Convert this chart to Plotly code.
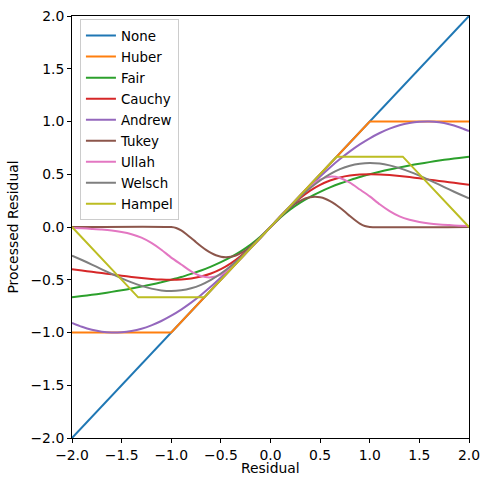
import plotly.graph_objects as go

# Residual grid for the smooth curves
residual = [-2.0, -1.9, -1.8, -1.7, -1.6, -1.5, -1.4, -1.3, -1.2, -1.1, -1.0,
            -0.9, -0.8, -0.7, -0.6, -0.5, -0.4, -0.3, -0.2, -0.1, 0.0,
            0.1, 0.2, 0.3, 0.4, 0.5, 0.6, 0.7, 0.8, 0.9, 1.0,
            1.1, 1.2, 1.3, 1.4, 1.5, 1.6, 1.7, 1.8, 1.9, 2.0]

fair = [-0.667, -0.655, -0.643, -0.630, -0.615, -0.600, -0.583, -0.565, -0.545, -0.524, -0.500,
        -0.474, -0.444, -0.412, -0.375, -0.333, -0.286, -0.231, -0.167, -0.091, 0.0,
        0.091, 0.167, 0.231, 0.286, 0.333, 0.375, 0.412, 0.444, 0.474, 0.500,
        0.524, 0.545, 0.565, 0.583, 0.600, 0.615, 0.630, 0.643, 0.655, 0.667]

cauchy = [-0.400, -0.412, -0.425, -0.437, -0.449, -0.462, -0.473, -0.483, -0.492, -0.498, -0.500,
          -0.497, -0.488, -0.470, -0.441, -0.400, -0.345, -0.275, -0.192, -0.099, 0.0,
          0.099, 0.192, 0.275, 0.345, 0.400, 0.441, 0.470, 0.488, 0.497, 0.500,
          0.498, 0.492, 0.483, 0.473, 0.462, 0.449, 0.437, 0.425, 0.412, 0.400]

andrew = [-0.909, -0.946, -0.974, -0.992, -1.000, -0.997, -0.985, -0.964, -0.932, -0.891, -0.841,
          -0.783, -0.717, -0.644, -0.565, -0.479, -0.389, -0.296, -0.199, -0.100, 0.0,
          0.100, 0.199, 0.296, 0.389, 0.479, 0.565, 0.644, 0.717, 0.783, 0.841,
          0.891, 0.932, 0.964, 0.985, 0.997, 1.000, 0.992, 0.974, 0.946, 0.909]

# Tukey is read on a finer grid inside [-1, 1] and is flat outside it
tukey_x = [-2.0, -1.0, -0.95, -0.9, -0.85, -0.8, -0.75, -0.7, -0.65, -0.6, -0.55, -0.5,
           -0.45, -0.4, -0.35, -0.3, -0.25, -0.2, -0.15, -0.1, -0.05, 0.0,
           0.05, 0.1, 0.15, 0.2, 0.25, 0.3, 0.35, 0.4, 0.45, 0.5,
           0.55, 0.6, 0.65, 0.7, 0.75, 0.8, 0.85, 0.9, 0.95, 1.0, 2.0]
tukey = [0.0, 0.0, -0.009, -0.032, -0.066, -0.104, -0.144, -0.182, -0.217, -0.246, -0.268, -0.281,
         -0.286, -0.282, -0.270, -0.248, -0.220, -0.184, -0.143, -0.098, -0.050, 0.0,
         0.050, 0.098, 0.143, 0.184, 0.220, 0.248, 0.270, 0.282, 0.286, 0.281,
         0.268, 0.246, 0.217, 0.182, 0.144, 0.104, 0.066, 0.032, 0.009, 0.0, 0.0]

ullah = [-0.010, -0.013, -0.018, -0.024, -0.033, -0.047, -0.068, -0.100, -0.150, -0.215, -0.290,
         -0.355, -0.420, -0.465, -0.477, -0.450, -0.385, -0.297, -0.200, -0.100, 0.0,
         0.100, 0.200, 0.297, 0.385, 0.450, 0.477, 0.465, 0.420, 0.355, 0.290,
         0.215, 0.150, 0.100, 0.068, 0.047, 0.033, 0.024, 0.018, 0.013, 0.010]

welsch = [-0.271, -0.313, -0.356, -0.401, -0.445, -0.487, -0.525, -0.558, -0.584, -0.601, -0.607,
          -0.600, -0.581, -0.548, -0.501, -0.441, -0.369, -0.287, -0.196, -0.100, 0.0,
          0.100, 0.196, 0.287, 0.369, 0.441, 0.501, 0.548, 0.581, 0.600, 0.607,
          0.601, 0.584, 0.558, 0.525, 0.487, 0.445, 0.401, 0.356, 0.313, 0.271]

# Piecewise-linear curves, given at their breakpoints
none_x = [-2.0, 2.0]
none_y = [-2.0, 2.0]
huber_x = [-2.0, -1.0, 1.0, 2.0]
huber_y = [-1.0, -1.0, 1.0, 1.0]
hampel_x = [-2.0, -1.333, -0.667, 0.667, 1.333, 2.0]
hampel_y = [0.0, -0.667, -0.667, 0.667, 0.667, 0.0]

ticks = [-2.0, -1.5, -1.0, -0.5, 0.0, 0.5, 1.0, 1.5, 2.0]

series = [
    ("None", none_x, none_y, "#1f77b4", "linear"),
    ("Huber", huber_x, huber_y, "#ff7f0e", "linear"),
    ("Fair", residual, fair, "#2ca02c", "spline"),
    ("Cauchy", residual, cauchy, "#d62728", "spline"),
    ("Andrew", residual, andrew, "#9467bd", "spline"),
    ("Tukey", tukey_x, tukey, "#8c564b", "spline"),
    ("Ullah", residual, ullah, "#e377c2", "spline"),
    ("Welsch", residual, welsch, "#7f7f7f", "spline"),
    ("Hampel", hampel_x, hampel_y, "#bcbd22", "linear"),
]

fig = go.Figure()
for name, xs, ys, color, shape in series:
    fig.add_trace(go.Scatter(
        x=xs, y=ys, name=name, mode="lines", legendgroup=name,
        line=dict(color=color, width=2, shape=shape, smoothing=0.6),
    ))

axis_style = dict(
    range=[-2, 2], tickvals=ticks, tickformat=".1f", ticks="outside", ticklen=4,
    tickcolor="black", showline=True, linecolor="black", linewidth=1, mirror=True,
    showgrid=False, zeroline=False, automargin=False,
    tickfont=dict(size=13.9, color="black"),
)

fig.update_layout(
    width=490, height=490,
    margin=dict(l=72, r=21, t=16, b=52),
    paper_bgcolor="white", plot_bgcolor="white",
    font=dict(family="DejaVu Sans", size=13.9, color="black"),
    xaxis=axis_style,
    yaxis=dict(title=dict(text="Processed Residual", font=dict(size=13.9), standoff=8), **axis_style),
    legend=dict(x=0.02, y=0.992, xanchor="left", yanchor="top",
                bgcolor="rgba(255,255,255,0.8)", bordercolor="#cccccc", borderwidth=1,
                font=dict(size=13.4), itemwidth=30, tracegroupgap=0.6),
)

# x axis title placed as an annotation so it sits close to the tick labels
fig.add_annotation(text="Residual", xref="paper", yref="paper", x=0.5, y=0,
                   yshift=-30, yanchor="middle", showarrow=False,
                   font=dict(size=13.9, color="black"))

# drop the default page margin so the figure fills the window exactly
fig.write_html("out.html", config={"displayModeBar": False},
               post_script="document.body.style.margin='0';")
